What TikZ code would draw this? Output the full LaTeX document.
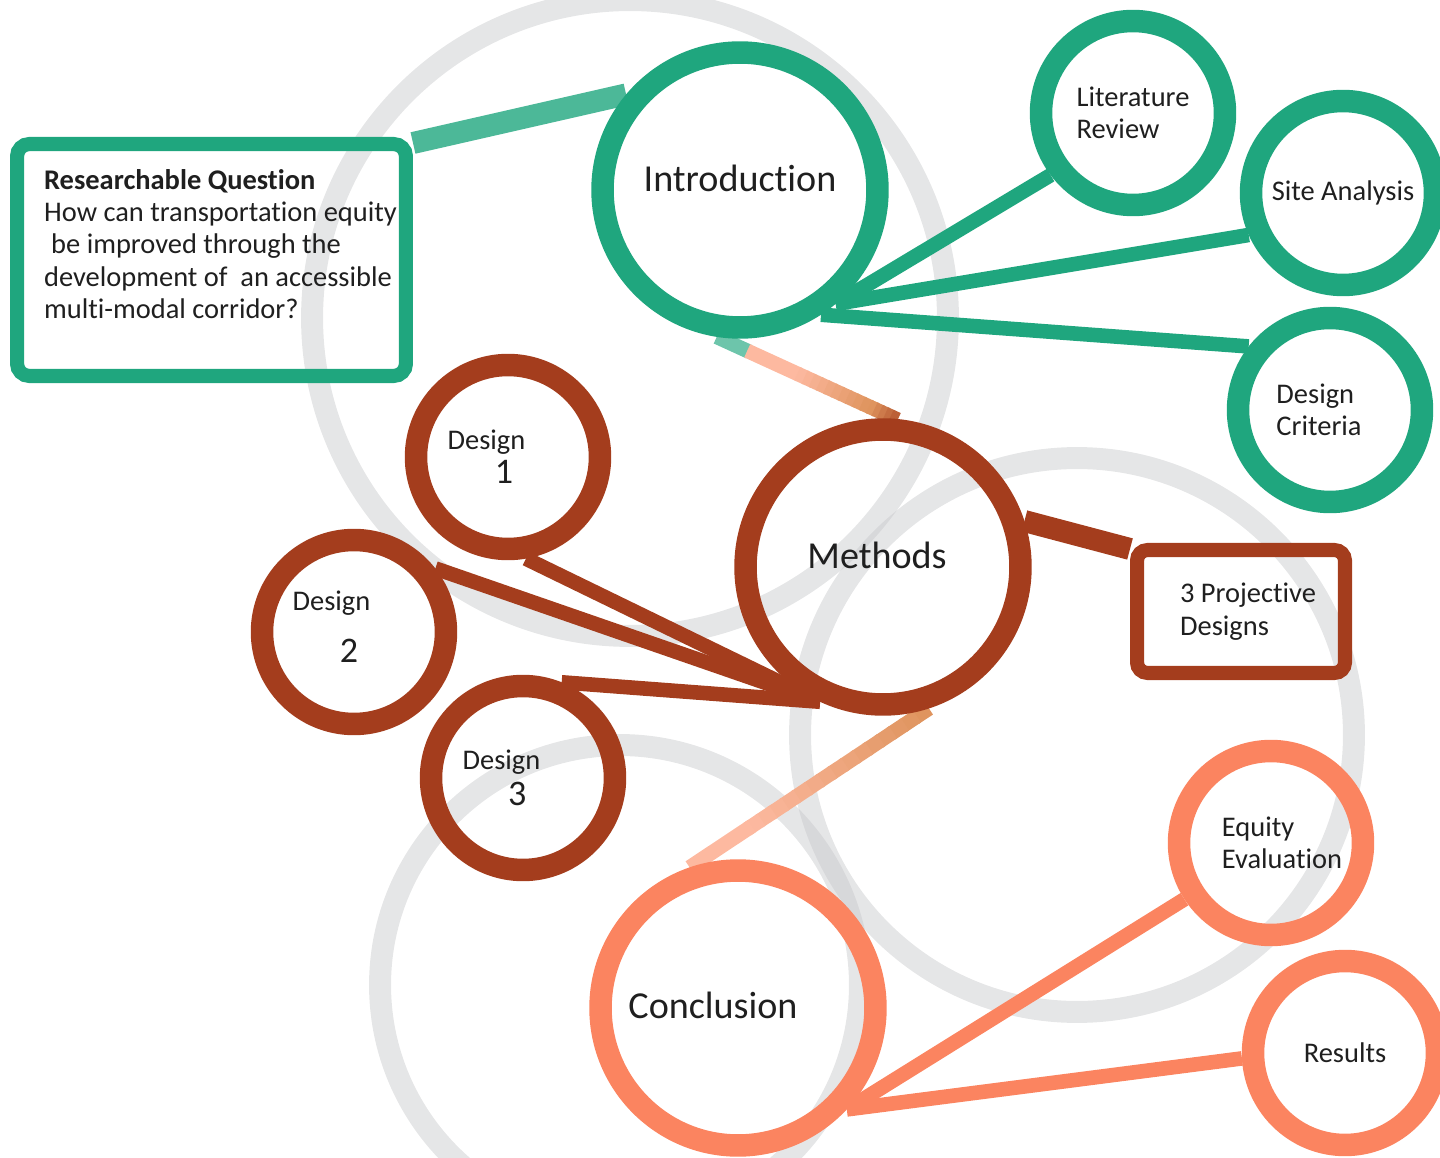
\documentclass[tikz,border=0pt]{standalone}
\usepackage{fontspec}
\setmainfont{Carlito}[Ligatures=NoCommon]
\usepackage{xcolor}
\usepackage{tikz}
\usetikzlibrary{shapes,arrows.meta,positioning,calc,backgrounds}

\definecolor{teal1}{HTML}{1FA67E}
\definecolor{rust}{HTML}{A43D1D}
\definecolor{coral}{HTML}{FB8460}
\definecolor{pale}{HTML}{FDB9A0}
\definecolor{tan1}{HTML}{DF945E}
\definecolor{ringgray}{HTML}{C6C7CA}

\begin{document}
\begin{tikzpicture}[
    x=0.02cm, y=-0.02cm,
    bg/.style={draw=ringgray, draw opacity=0.45, line width=12.5pt},
    big/.style={circle, line width=12.8pt, minimum size=5.5cm, inner sep=0pt},
    small/.style={circle, line width=12.8pt, minimum size=3.68cm, inner sep=0pt, align=left, text=black!88, font=\fontsize{16.2}{18.4}\selectfont},
    bigtxt/.style={text=black!88, font=\fontsize{21.7}{25}\selectfont},
    smalltxt/.style={text=black!88, align=center, font=\fontsize{16.2}{18.4}\selectfont},
    qbox/.style={rectangle, draw=teal1, line width=8pt, rounded corners=7pt, minimum width=7.78cm, minimum height=4.64cm},
    pbox/.style={rectangle, draw=rust, line width=8pt, rounded corners=6pt, minimum width=4.16cm, minimum height=2.46cm},
    conn/.style={line width=8.3pt},
    band/.style={line width=12.5pt}
]
    \useasboundingbox (0,0) rectangle (1440,1158);
    \clip (0,0) rectangle (1440,1158);

    % boxes
    \node [qbox, label={[smalltxt, align=left, xshift=0.18cm, yshift=0.32cm]center:\textbf{Researchable Question}\\How can transportation equity\\\hspace*{0.25em}be improved through the\\development of\ \ an accessible\\multi-modal corridor?}] (rq) at (211.5,260) {};
    \node [pbox, label={[smalltxt, align=left, xshift=0.14cm]center:3 Projective\\Designs}] (proj) at (1241,611.5) {};

    % introduction group
    \node [big, draw=teal1, label={[bigtxt, yshift=0.24cm]center:Introduction}] (intro) at (740,190) {};
    \node [small, draw=teal1] (lit) at (1133,113) {Literature\\Review};
    \node [small, draw=teal1] (site) at (1343,193) {Site Analysis};
    \node [small, draw=teal1, label={[smalltxt, align=left, xshift=-0.22cm]center:Design\\Criteria}] (crit) at (1330,410) {};

    % methods group
    \node [big, draw=rust, label={[bigtxt, xshift=-0.12cm, yshift=0.24cm]center:Methods}] (meth) at (883,567) {};
    \node [small, draw=rust, label={[smalltxt, xshift=-0.43cm]center:Design\\[1pt]\hspace*{20pt}{\fontsize{20.5}{20.5}\selectfont 1}}] (d1) at (508,457) {};
    \node [small, draw=rust, label={[smalltxt, xshift=-0.45cm, yshift=0.11cm]center:Design\\[11pt]\hspace*{20pt}{\fontsize{20.5}{20.5}\selectfont 2}}] (d2) at (354,632) {};
    \node [small, draw=rust, label={[smalltxt, xshift=-0.43cm]center:Design\\[2pt]\hspace*{18pt}{\fontsize{20.5}{20.5}\selectfont 3}}] (d3) at (523,778) {};

    % conclusion group
    \node [big, draw=coral, label={[bigtxt, xshift=-0.5cm, yshift=0.06cm]center:Conclusion}] (conc) at (738,1008) {};
    \node [small, draw=coral, label={[smalltxt, align=left, xshift=0.22cm]center:Equity\\Evaluation}] (eq) at (1271,843) {};
    \node [small, draw=coral] (res) at (1345,1053) {Results};

    \begin{scope}[on background layer]
        \draw [bg] (630,318) circle [radius=6.36cm];
        \draw [bg] (1077,735) circle [radius=5.54cm];
        \draw [bg] (620,985) circle [radius=4.8cm];

        \draw [band, draw=teal1!80] ([yshift=-0.12cm]rq.north east) -- (intro.140);
        \draw [conn, draw=teal1] (intro.-50) -- (lit.217);
        \draw [conn, draw=teal1] (intro.-50) -- (site.204);
        \draw [conn, draw=teal1] (intro.-57) -- (crit.142);

        \draw [band, draw=rust] (meth.18) -- ([yshift=-0.12cm]proj.north west);
        \draw [conn, draw=rust] (d1.-80) -- (meth.-115);
        \draw [conn, draw=rust] (d2.38) -- (meth.-115);
        \draw [conn, draw=rust] (d3.68) -- (meth.-115);

        \draw [conn, draw=coral] (conc.-43) -- (eq.213);
        \draw [conn, draw=coral] (conc.-43) -- (res.183);

        % intro -> methods, fading colours
        \draw [conn, draw=teal1!65] (intro.-99) -- ($(intro.-99)!0.18!(meth.85)$);
        \draw [conn, draw=pale] ($(intro.-99)!0.17!(meth.85)$) -- ($(intro.-99)!0.46!(meth.85)$);
        \foreach \i in {0,...,9}{
            \pgfmathsetmacro\ta{0.45+\i*0.04}
            \pgfmathsetmacro\tb{0.45+\i*0.04+0.05}
            \pgfmathtruncatemacro\p{\i*10+5}
            \draw [conn, draw=tan1!\p!pale] ($(intro.-99)!\ta!(meth.85)$) -- ($(intro.-99)!\tb!(meth.85)$);
        }
        \foreach \i in {0,...,4}{
            \pgfmathsetmacro\ta{0.85+\i*0.03}
            \pgfmathsetmacro\tb{0.85+\i*0.03+0.04}
            \pgfmathtruncatemacro\p{\i*15}
            \draw [conn, draw=rust!\p!tan1] ($(intro.-99)!\ta!(meth.85)$) -- ($(intro.-99)!\tb!(meth.85)$);
        }

        % methods -> conclusion
        \foreach \i in {0,...,14}{
            \pgfmathsetmacro\ta{\i*0.05}
            \pgfmathsetmacro\tb{\i*0.05+0.06}
            \pgfmathtruncatemacro\p{\i*7}
            \draw [conn, draw=pale!\p!tan1] ($(meth.-72)!\ta!(conc.109)$) -- ($(meth.-72)!\tb!(conc.109)$);
        }
        \draw [conn, draw=pale] ($(meth.-72)!0.74!(conc.109)$) -- (conc.109);
    \end{scope}
\end{tikzpicture}
\end{document}
